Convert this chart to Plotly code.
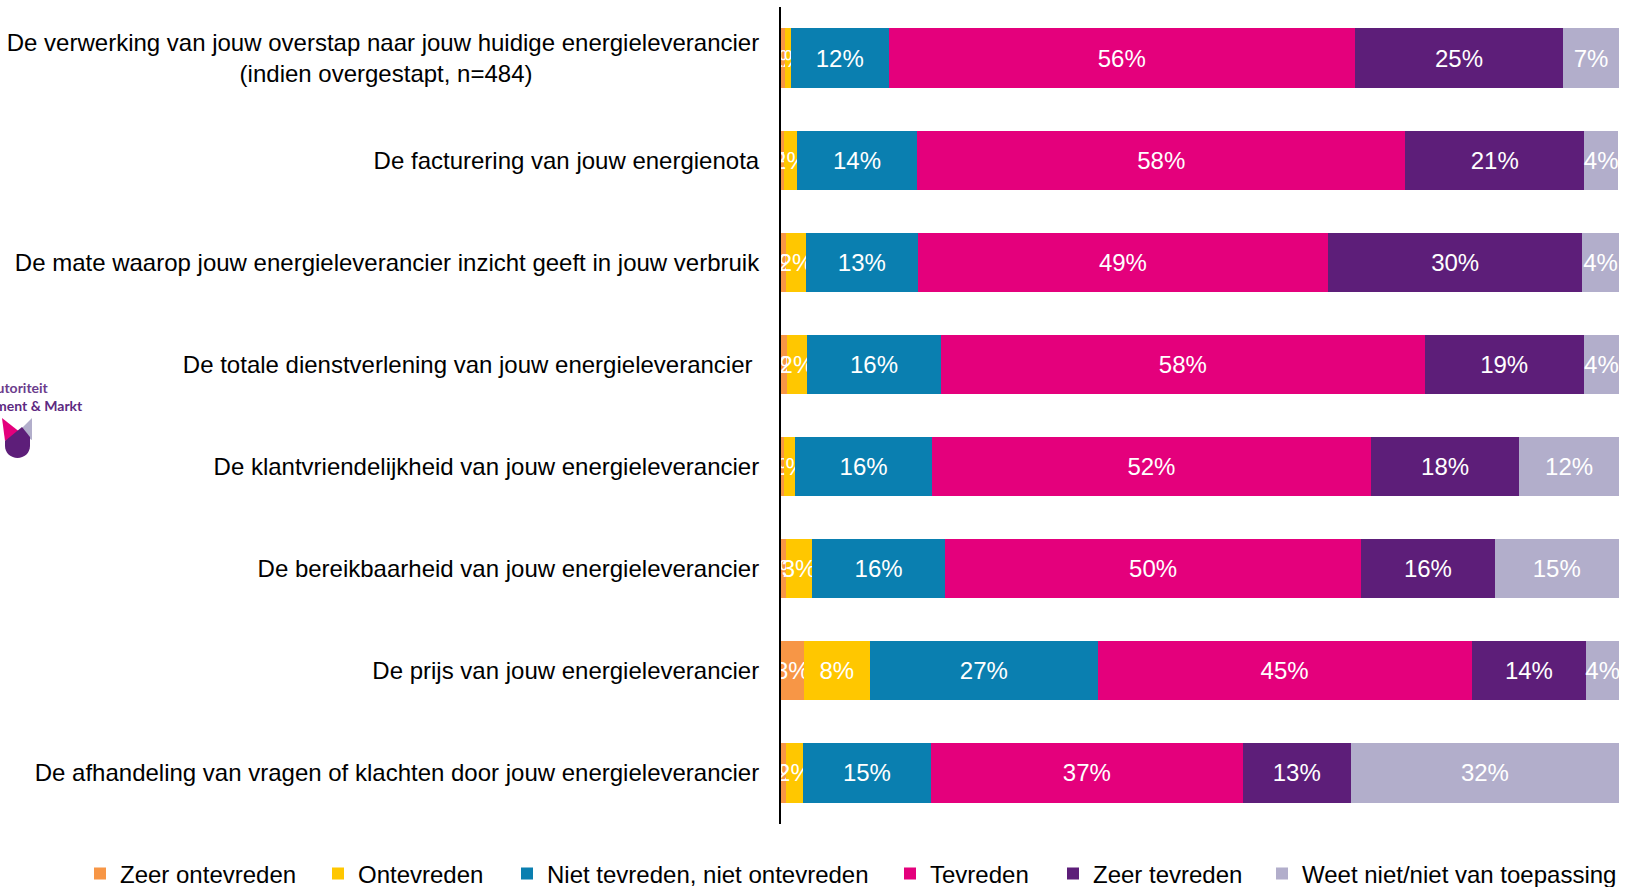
import plotly.graph_objects as go

NBSP = "\u00a0"

categories = [
    "De verwerking van jouw overstap naar jouw huidige energieleverancier<br>(indien overgestapt, n=484)" + NBSP * 34,
    "De facturering van jouw energienota",
    "De mate waarop jouw energieleverancier inzicht geeft in jouw verbruik",
    "De totale dienstverlening van jouw energieleverancier" + NBSP,
    "De klantvriendelijkheid van jouw energieleverancier",
    "De bereikbaarheid van jouw energieleverancier",
    "De prijs van jouw energieleverancier",
    "De afhandeling van vragen of klachten door jouw energieleverancier",
]

series_names = [
    "Zeer ontevreden",
    "Ontevreden",
    "Niet tevreden, niet ontevreden",
    "Tevreden",
    "Zeer tevreden",
    "Weet niet/niet van toepassing",
]

zeer_ontevreden = [0.44, 0.32, 0.6, 0.7, 0.3, 0.55, 2.7, 0.6]
ontevreden = [0.72, 1.6, 2.4, 2.4, 1.4, 3.2, 7.9, 2.0]
neutraal = [11.7, 14.3, 13.3, 16.0, 16.3, 15.8, 27.2, 15.3]
tevreden = [55.6, 58.3, 49.0, 57.7, 52.4, 49.7, 44.6, 37.2]
zeer_tevreden = [24.9, 21.3, 30.3, 19.0, 17.7, 15.9, 13.7, 12.9]
weet_niet = [6.6, 4.1, 4.4, 4.2, 11.9, 14.85, 3.9, 32.0]

series_values = [zeer_ontevreden, ontevreden, neutraal, tevreden, zeer_tevreden, weet_niet]
colors = ["#F79646", "#FFC700", "#0A7FB0", "#E4007C", "#5D1E79", "#B2AECB"]

# legend text start positions (pixels)
legend_text_px = [120, 358, 547, 930, 1093, 1302]

W, H = 1629, 887
ML, MR, MT, MB = 781, 10, 7, 63
PW, PH = W - ML - MR, H - MT - MB


def px_x(px):
    return (px - ML) / PW


def px_y(py):
    return (H - MB - py) / PH


FONT = "Arial, 'Liberation Sans', sans-serif"

fig = go.Figure()
for i, (name, vals, col) in enumerate(zip(series_names, series_values, colors)):
    fig.add_trace(go.Bar(
        y=categories,
        x=vals,
        name=name,
        orientation="h",
        marker=dict(color=col, line=dict(width=0)),
        texttemplate="%{x:.0f}%",
        textposition="inside",
        insidetextanchor="middle",
        textangle=0,
        constraintext="none",
        textfont=dict(color="white", size=24, family=FONT),
        cliponaxis=True,
        legend="legend" if i == 0 else f"legend{i + 1}",
        hoverinfo="skip",
    ))

layout_legends = {}
for i, tx in enumerate(legend_text_px):
    key = "legend" if i == 0 else f"legend{i + 1}"
    layout_legends[key] = dict(
        x=px_x(tx - 40),
        y=px_y(874),
        xanchor="left",
        yanchor="middle",
        orientation="h",
        font=dict(size=24, color="black", family=FONT),
        bgcolor="rgba(0,0,0,0)",
        borderwidth=0,
        itemwidth=30,
    )

fig.update_layout(
    width=W,
    height=H,
    margin=dict(l=ML, r=MR, t=MT, b=MB, pad=0, autoexpand=False),
    barmode="stack",
    bargap=0.42,
    plot_bgcolor="white",
    paper_bgcolor="white",
    font=dict(family=FONT, size=24, color="black"),
    uniformtext=dict(minsize=24, mode="show"),
    showlegend=True,
    xaxis=dict(range=[0, 100], visible=False, fixedrange=True),
    yaxis=dict(
        autorange="reversed",
        showline=True,
        linecolor="black",
        linewidth=2,
        ticks="",
        showgrid=False,
        zeroline=False,
        ticklabelstandoff=15,
        tickfont=dict(size=24, color="black", family=FONT),
    ),
    **layout_legends,
)

# partial logo at the left edge
LOGO_FONT = "Lato, 'Noto Sans', sans-serif"
fig.add_annotation(x=px_x(51), y=px_y(387), xref="paper", yref="paper",
                   text="<b>Autoriteit</b>", showarrow=False, xanchor="right", yanchor="middle",
                   font=dict(size=14, color="#6B3C8C", family=LOGO_FONT))
fig.add_annotation(x=px_x(85), y=px_y(405), xref="paper", yref="paper",
                   text="<b>Consument &amp; Markt</b>", showarrow=False, xanchor="right", yanchor="middle",
                   font=dict(size=14, color="#5D2A82", family=LOGO_FONT))


def pt(x, y):
    return f"{px_x(x):.5f},{px_y(y):.5f}"


lavender_path = f"M {pt(32, 418)} L {pt(32, 440)} L {pt(18, 432)} Z"
pink_path = f"M {pt(2, 418)} L {pt(21, 433)} L {pt(5, 441)} Z"
purple_path = (f"M {pt(5, 441)} L {pt(22, 427)} L {pt(30, 437)} L {pt(30, 446)} "
               f"C {pt(30, 453)} {pt(24, 458)} {pt(17.5, 458)} "
               f"C {pt(11, 458)} {pt(5, 453)} {pt(5, 446)} Z")

for p, c in [(lavender_path, "#B2AECB"), (pink_path, "#E4007C"), (purple_path, "#5D1E79")]:
    fig.add_shape(type="path", xref="paper", yref="paper", path=p,
                  fillcolor=c, line=dict(width=0), layer="above")

fig.write_html("out.html", config={"displayModeBar": False},
               post_script="document.body.style.margin='0';")
